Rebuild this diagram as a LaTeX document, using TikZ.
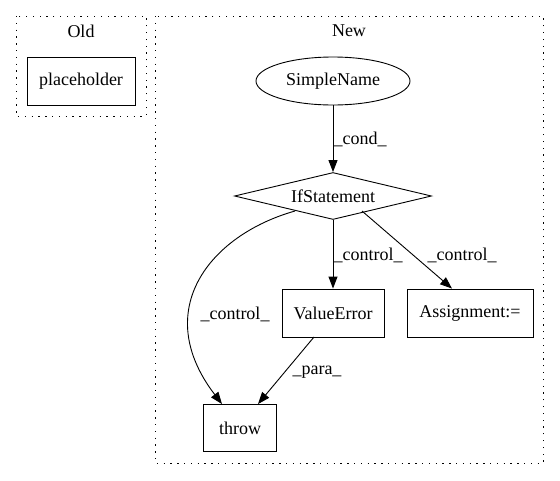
\documentclass[tikz,border=0pt]{standalone}
\usepackage{fontspec}
\setmainfont{Liberation Serif}
\usetikzlibrary{shapes.geometric,arrows.meta}
\begin{document}
\begin{tikzpicture}[x=1pt,y=-1pt,
  font=\fontsize{18}{20}\selectfont,
  cluster/.style={draw,line width=1pt,dash pattern=on 1.3pt off 5.5pt},
  boxnode/.style={draw,line width=0.9pt,rectangle,inner sep=0pt},
  edge/.style={draw,line width=0.9pt,-{Triangle[length=12pt,width=9pt]}},
  lbl/.style={inner sep=1pt}]
\useasboundingbox (0,0) rectangle (560,480);
\draw[cluster] (16,16) rectangle (146,116);
\node (oldt) at (81,31) {Old};
\node[boxnode,minimum width=108pt,minimum height=48pt] (ph) at (81,81) {placeholder};
\draw[cluster] (155,16) rectangle (543,463);
\node (newt) at (349,31) {New};
\node[draw,line width=0.9pt,ellipse,minimum width=154pt,minimum height=48pt,inner sep=0pt] (sn) at (333,81) {SimpleName};
\node[draw,line width=0.9pt,diamond,aspect=4.1,minimum width=197pt,minimum height=47pt,inner sep=0pt] (if) at (333,196) {IfStatement};
\node[boxnode,minimum width=102pt,minimum height=48pt] (ve) at (333,313) {ValueError};
\node[boxnode,minimum width=126pt,minimum height=48pt] (as) at (470,313) {Assignment:=};
\node[boxnode,minimum width=73pt,minimum height=47pt] (th) at (240,428) {throw};
\coordinate (ifl) at (295,211);
\coordinate (ifr) at (362,211);
\coordinate (ved) at (314,337);
\draw[edge] (sn) -- (if);
\node[lbl] at (360,139) {\_cond\_};
\draw[edge] (if.south) -- (ve.north);
\node[lbl] at (368,255) {\_control\_};
\draw[edge] (ifr) -- (as.north west -| 452,0);
\node[lbl] at (462,255) {\_control\_};
\draw[edge] (ifl) .. controls (210,235) and (150,310) .. (th.north -| 222,0);
\node[lbl] at (235,314) {\_control\_};
\draw[edge] (ved) -- (th.north -| 258,0);
\node[lbl] at (317,372) {\_para\_};
\end{tikzpicture}
\end{document}
